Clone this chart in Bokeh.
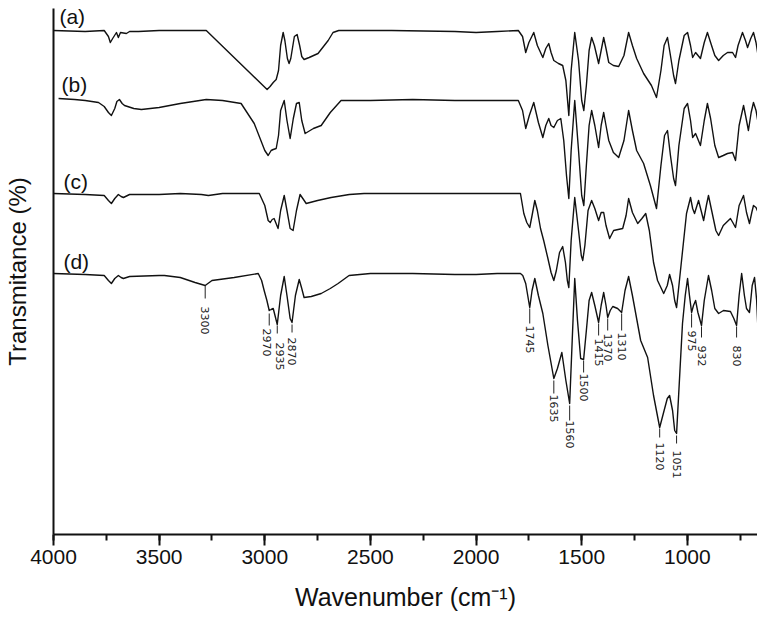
import numpy as np
from bokeh.plotting import figure
from bokeh.models import Range1d, SingleIntervalTicker, FixedTicker
from bokeh.core.properties import value
from bokeh.embed import file_html
from bokeh.resources import INLINE

# ---------------- data ----------------
# spectrum (a)
wn_a = [4000, 3850, 3760, 3740, 3731, 3720, 3702, 3693, 3683, 3655, 3640, 3598, 3500, 3400, 3277,
        2989, 2975, 2960, 2946, 2935, 2925, 2913, 2905, 2893, 2885, 2877, 2860, 2847, 2835, 2825,
        2814, 2790, 2748, 2700, 2677, 2650, 2400, 2100, 2000, 1900, 1800, 1780, 1765, 1750, 1727,
        1710, 1684, 1670, 1656, 1645, 1632, 1610, 1590, 1575, 1561, 1550, 1533, 1515, 1500, 1490,
        1478, 1465, 1453, 1440, 1420, 1408, 1396, 1385, 1372, 1350, 1325, 1300, 1278, 1260, 1240,
        1207, 1170, 1146, 1125, 1110, 1094, 1080, 1065, 1056, 1040, 1015, 999, 985, 975, 961,
        938, 920, 905, 890, 870, 852, 830, 810, 786, 772, 760, 739, 725, 715, 700,
        687, 675, 663]
t_a = [504, 503, 504, 498, 492, 496, 502, 497, 502, 501, 503, 503, 504, 504, 504,
       445, 448, 452, 455, 464, 489, 502, 494, 476, 471, 476, 498, 500, 489, 478,
       475, 477, 481, 494, 502, 504, 504, 503, 502, 503, 504, 498, 482, 492, 502,
       489, 477, 486, 491, 482, 474, 471, 469, 454, 419, 464, 502, 474, 434, 424,
       449, 484, 497, 489, 471, 484, 497, 486, 472, 469, 468, 479, 502, 489, 476,
       461, 449, 437, 464, 489, 497, 479, 459, 451, 474, 499, 502, 489, 477, 482,
       476, 492, 502, 492, 479, 474, 479, 482, 482, 477, 489, 502, 494, 487, 496,
       502, 492, 476]

# spectrum (b)
wn_b = [3976, 3900, 3850, 3787, 3760, 3740, 3726, 3710, 3700, 3688, 3675, 3664, 3620, 3584, 3500,
        3400, 3277, 3200, 3112, 3050, 3000, 2984, 2970, 2960, 2946, 2935, 2925, 2908, 2895, 2880,
        2865, 2850, 2837, 2825, 2809, 2770, 2733, 2690, 2639, 2500, 2300, 2100, 2000, 1900, 1800,
        1780, 1765, 1748, 1727, 1705, 1684, 1670, 1656, 1645, 1632, 1615, 1599, 1585, 1572, 1561,
        1550, 1533, 1515, 1500, 1490, 1478, 1465, 1453, 1438, 1420, 1408, 1396, 1385, 1372, 1350,
        1325, 1300, 1278, 1260, 1240, 1207, 1175, 1146, 1125, 1108, 1094, 1080, 1065, 1056, 1040,
        1015, 999, 985, 975, 961, 938, 920, 905, 890, 870, 852, 830, 810, 786, 772,
        755, 734, 720, 711, 698, 687, 675, 663]
t_b = [436, 435, 434, 432, 428, 422, 419, 426, 433, 435, 431, 429, 426, 425, 427,
       431, 435, 434, 431, 411, 384, 379, 384, 385, 386, 399, 424, 434, 414, 396,
       416, 431, 432, 414, 401, 406, 409, 422, 434, 434, 435, 434, 434, 434, 434,
       424, 406, 419, 432, 412, 397, 409, 416, 409, 407, 414, 416, 394, 359, 336,
       384, 434, 384, 339, 329, 369, 409, 424, 409, 387, 409, 422, 409, 394, 382,
       377, 394, 424, 404, 384, 371, 349, 326, 369, 399, 404, 379, 356, 349, 389,
       426, 431, 414, 397, 401, 389, 414, 431, 416, 389, 377, 379, 381, 382, 374,
       409, 429, 414, 404, 422, 432, 424, 409]

# spectrum (c)
wn_c = [4000, 3850, 3760, 3740, 3726, 3710, 3693, 3680, 3669, 3640, 3500, 3400, 3300, 3267, 3200,
        3100, 3026, 3000, 2984, 2974, 2965, 2956, 2937, 2925, 2908, 2895, 2880, 2866, 2850, 2833,
        2820, 2804, 2750, 2686, 2600, 2530, 2300, 2100, 1900, 1790, 1774, 1760, 1746, 1735, 1722,
        1710, 1695, 1680, 1660, 1645, 1632, 1620, 1605, 1590, 1577, 1568, 1561, 1550, 1533, 1515,
        1502, 1495, 1485, 1470, 1453, 1438, 1420, 1408, 1396, 1385, 1368, 1349, 1306, 1290, 1278,
        1260, 1235, 1215, 1197, 1180, 1160, 1141, 1112, 1095, 1084, 1070, 1060, 1051, 1030, 1004,
        985, 975, 966, 947, 935, 923, 910, 900, 885, 865, 852, 830, 796, 785, 772,
        755, 734, 720, 706, 695, 687, 675, 663]
t_c = [341, 340, 339, 334, 331, 336, 340, 338, 337, 340, 340, 341, 340, 339, 341,
       341, 341, 329, 314, 312, 315, 316, 306, 324, 339, 324, 306, 304, 324, 340,
       336, 331, 334, 337, 340, 341, 341, 341, 341, 341, 321, 312, 307, 319, 334,
       324, 306, 294, 276, 262, 254, 264, 282, 288, 272, 254, 247, 294, 337, 304,
       279, 274, 289, 324, 334, 326, 314, 322, 322, 309, 296, 304, 306, 319, 336,
       322, 311, 316, 321, 304, 272, 254, 241, 249, 260, 249, 234, 227, 269, 321,
       337, 326, 321, 334, 324, 314, 329, 339, 324, 304, 299, 309, 316, 312, 307,
       329, 339, 322, 311, 322, 329, 327, 321]

# spectrum (d)
wn_d = [4000, 3850, 3760, 3740, 3726, 3710, 3693, 3680, 3669, 3640, 3500, 3475, 3400, 3330, 3282,
        3250, 3145, 3031, 3015, 3003, 2990, 2979, 2970, 2960, 2941, 2925, 2908, 2895, 2880, 2871,
        2855, 2837, 2825, 2814, 2780, 2733, 2690, 2653, 2601, 2500, 2300, 2100, 2000, 1900, 1790,
        1779, 1765, 1746, 1735, 1722, 1705, 1684, 1660, 1632, 1615, 1594, 1575, 1557, 1545, 1533,
        1520, 1505, 1491, 1478, 1465, 1453, 1438, 1420, 1408, 1396, 1385, 1377, 1365, 1353, 1330,
        1311, 1295, 1278, 1260, 1221, 1188, 1160, 1131, 1110, 1095, 1084, 1070, 1060, 1051, 1035,
        1023, 1010, 999, 990, 980, 971, 961, 950, 933, 920, 900, 885, 870, 852, 829,
        796, 780, 767, 755, 743, 730, 720, 706, 700, 693, 682, 672, 663]
t_d = [261, 260, 259, 254, 251, 256, 259, 257, 256, 258, 259, 259, 257, 252, 249,
       254, 257, 261, 254, 244, 234, 224, 225, 226, 210, 239, 258, 239, 216, 212,
       239, 255, 246, 237, 238, 241, 246, 251, 259, 261, 261, 260, 260, 261, 261,
       259, 251, 227, 244, 256, 239, 221, 189, 156, 166, 182, 154, 131, 194, 256,
       214, 176, 175, 204, 234, 242, 229, 212, 229, 242, 229, 217, 224, 228, 226,
       222, 244, 258, 239, 194, 177, 139, 107, 124, 136, 139, 124, 104, 101, 164,
       211, 239, 256, 239, 222, 229, 234, 222, 209, 234, 259, 244, 226, 221, 224,
       223, 216, 209, 239, 261, 239, 226, 222, 234, 249, 257, 234, 192]

# curve names
names = ["(a)", "(b)", "(c)", "(d)"]
name_x = [3972, 3962, 3953, 3953]
name_y = [518, 450, 353, 273]

# peak assignments on spectrum (d)
peak_text = ["3300", "2970", "2935", "2870", "1745", "1635", "1560", "1500", "1415",
             "1370", "1310", "1120", "1051", "975", "932", "830"]
peak_x = [3282, 2979, 2941, 2871, 1746, 1632, 1557, 1491, 1420,
          1377, 1311, 1131, 1051, 980, 933, 767]
peak_top = [249, 221, 209, 210, 226, 154, 129, 174, 211,
            216, 221, 106, 99, 221, 208, 208]
peak_bottom = [236, 209, 201, 202, 211, 141, 114, 162, 199,
               204, 204, 97, 91, 207, 197, 197]
label_x = [3282, 2991, 2930, 2871, 1746, 1632, 1557, 1491, 1420,
           1377, 1311, 1131, 1051, 980, 933, 767]
label_y = [228, 206, 192, 197, 209, 140, 114, 161, 196,
           201, 202, 92, 84, 204, 189, 189]

# ---------------- figure ----------------
p = figure(width=757, height=617,
           x_range=Range1d(4000, 668), y_range=Range1d(0, 526),
           output_backend="svg", toolbar_location=None,
           min_border_left=52, min_border_right=0, min_border_top=8, min_border_bottom=83)
p.outline_line_color = None
p.grid.visible = False
p.background_fill_color = "white"
p.border_fill_color = "white"

for wn, t in [(wn_a, t_a), (wn_b, t_b), (wn_c, t_c), (wn_d, t_d)]:
    p.line(wn, t, line_color="#111111", line_width=1.4, line_join="round")

p.text(x=name_x, y=name_y, text=names, text_font=value("Liberation Sans"),
       text_font_size="21px", text_align="left", text_baseline="middle", text_color="#111111")

p.segment(x0=peak_x, y0=peak_top, x1=peak_x, y1=peak_bottom,
          line_color="#222222", line_width=1)
p.text(x=label_x, y=label_y, text=peak_text, angle=-np.pi / 2,
       text_align="left", text_baseline="middle", text_font=value("DejaVu Sans"),
       text_font_size="11px", text_color="#222222")

# x axis
xa = p.xaxis[0]
xa.ticker = SingleIntervalTicker(interval=500, num_minor_ticks=2)
xa.axis_label = "Wavenumber (cm\u207b\u00b9)"
xa.axis_label_text_font = "Liberation Sans"
xa.axis_label_text_font_size = "25px"
xa.axis_label_text_font_style = "normal"
xa.axis_label_text_color = "#111111"
xa.axis_label_standoff = 16
xa.major_label_text_font = "Liberation Sans"
xa.major_label_text_font_size = "21px"
xa.major_label_text_color = "#111111"
xa.major_label_standoff = 4
xa.axis_line_width = 2
xa.axis_line_color = "#111111"
xa.major_tick_line_width = 2
xa.minor_tick_line_width = 2
xa.major_tick_line_color = "#111111"
xa.minor_tick_line_color = "#111111"
xa.major_tick_out = 11
xa.major_tick_in = 0
xa.minor_tick_out = 6
xa.minor_tick_in = 0

# y axis
ya = p.yaxis[0]
ya.ticker = FixedTicker(ticks=[])
ya.axis_label = "Transmitance (%)"
ya.axis_label_text_font = "Liberation Sans"
ya.axis_label_text_font_size = "24px"
ya.axis_label_text_font_style = "normal"
ya.axis_label_text_color = "#111111"
ya.axis_label_standoff = 23
ya.major_label_standoff = 0
ya.major_tick_out = 0
ya.major_tick_in = 0
ya.minor_tick_out = 0
ya.minor_tick_in = 0
ya.axis_line_width = 2
ya.axis_line_color = "#111111"

open("out.html", "w").write(file_html(p, INLINE))
